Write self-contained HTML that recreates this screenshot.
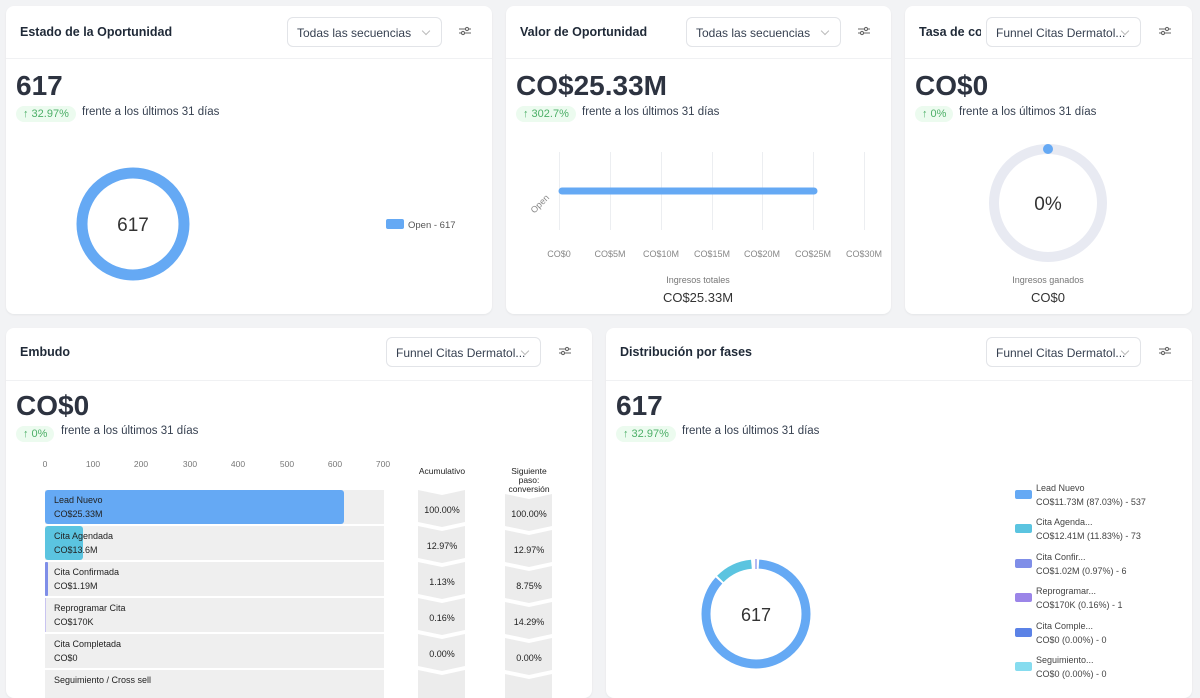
<!DOCTYPE html>
<html><head><meta charset="utf-8"><style>
*{box-sizing:border-box;margin:0;padding:0}
body{width:1200px;height:686px;overflow:hidden;background:#f2f3f5;font-family:"Liberation Sans",sans-serif;color:#1f2937;position:relative}
.card{position:absolute;background:#fff;border-radius:8px;box-shadow:0 1px 2px rgba(0,0,0,.06);overflow:hidden}
.hdr{position:absolute;left:0;right:0;top:0;height:53px;border-bottom:1px solid #f0f1f3}
.title{position:absolute;left:14px;top:19px;font-size:12.5px;font-weight:600;color:#1f2937;white-space:nowrap}
.dd{position:absolute;top:11px;width:155px;height:30px;border:1px solid #e2e4e8;border-radius:6px;background:#fff;font-size:12px;color:#374151;padding:8px 9px;white-space:nowrap}
.dd:after{content:"";position:absolute;right:12px;top:10px;width:5px;height:5px;border-right:1px solid #bbb;border-bottom:1px solid #bbb;transform:rotate(45deg)}
.fi{position:absolute;top:20px;width:12px;height:10px}
.big{position:absolute;left:10px;top:64px;font-size:28px;font-weight:700;color:#2d3340}
.badge{position:absolute;left:10px;top:100px;height:16px;background:#ecfbef;color:#4caf67;border-radius:8px;font-size:11px;padding:2px 7px}
.cmp{position:absolute;top:100px;font-size:11.5px;color:#374151}
.abs{position:absolute;white-space:nowrap}
</style></head><body>

<div class="card" style="left:6px;top:6px;width:486px;height:308px">
 <div class="hdr"><div class="title">Estado de la Oportunidad</div>
 <div class="dd" style="left:281px">Todas las secuencias</div>
 <svg class="fi" style="left:453px" viewBox="0 0 12 10"><g stroke="#666" fill="none" stroke-width="1.1"><line x1="0" y1="3" x2="12" y2="3"/><line x1="0" y1="7" x2="12" y2="7"/><circle cx="8" cy="3" r="1.6" fill="#fff"/><circle cx="4" cy="7" r="1.6" fill="#fff"/></g></svg></div>
 <div class="big">617</div>
 <div class="badge">↑ 32.97%</div><div class="cmp" style="left:76px">frente a los últimos 31 días</div>
 <svg class="abs" style="left:0;top:0" width="486" height="308">
  <circle cx="127" cy="218" r="51" fill="none" stroke="#65a9f4" stroke-width="11"/>
  <text x="127" y="225" font-size="19" text-anchor="middle" fill="#333" font-family="Liberation Sans">617</text>
  <rect x="380" y="213" width="18" height="10" rx="2" fill="#65a9f4"/>
  <text x="402" y="222" font-size="9.5" fill="#555" font-family="Liberation Sans">Open - 617</text>
 </svg>
</div>

<div class="card" style="left:506px;top:6px;width:385px;height:308px">
 <div class="hdr"><div class="title">Valor de Oportunidad</div>
 <div class="dd" style="left:180px">Todas las secuencias</div>
 <svg class="fi" style="left:352px" viewBox="0 0 12 10"><g stroke="#666" fill="none" stroke-width="1.1"><line x1="0" y1="3" x2="12" y2="3"/><line x1="0" y1="7" x2="12" y2="7"/><circle cx="8" cy="3" r="1.6" fill="#fff"/><circle cx="4" cy="7" r="1.6" fill="#fff"/></g></svg></div>
 <div class="big">CO$25.33M</div>
 <div class="badge">↑ 302.7%</div><div class="cmp" style="left:76px">frente a los últimos 31 días</div>
 <svg class="abs" style="left:0;top:0" width="385" height="308" font-family="Liberation Sans">
  <g stroke="#eceef1" stroke-width="1">
   <line x1="53.5" y1="146" x2="53.5" y2="224"/><line x1="104.5" y1="146" x2="104.5" y2="224"/><line x1="155.5" y1="146" x2="155.5" y2="224"/><line x1="206.5" y1="146" x2="206.5" y2="224"/><line x1="256.5" y1="146" x2="256.5" y2="224"/><line x1="307.5" y1="146" x2="307.5" y2="224"/><line x1="358.5" y1="146" x2="358.5" y2="224"/>
  </g>
  <line x1="56" y1="185" x2="308" y2="185" stroke="#65a9f4" stroke-width="7" stroke-linecap="round"/>
  <text x="36" y="200" font-size="9" fill="#888" transform="rotate(-45 36 200)" text-anchor="middle">Open</text>
  <g font-size="9" fill="#888" text-anchor="middle">
   <text x="53" y="251">CO$0</text><text x="104" y="251">CO$5M</text><text x="155" y="251">CO$10M</text><text x="206" y="251">CO$15M</text><text x="256" y="251">CO$20M</text><text x="307" y="251">CO$25M</text><text x="358" y="251">CO$30M</text>
  </g>
  <text x="192" y="277" font-size="9" fill="#777" text-anchor="middle">Ingresos totales</text>
  <text x="192" y="296" font-size="13" fill="#333" text-anchor="middle">CO$25.33M</text>
 </svg>
</div>

<div class="card" style="left:905px;top:6px;width:287px;height:308px">
 <div class="hdr"><div class="title" style="width:62px;overflow:hidden">Tasa de conversión</div>
 <div class="dd" style="left:81px">Funnel Citas Dermatol...</div>
 <svg class="fi" style="left:254px" viewBox="0 0 12 10"><g stroke="#666" fill="none" stroke-width="1.1"><line x1="0" y1="3" x2="12" y2="3"/><line x1="0" y1="7" x2="12" y2="7"/><circle cx="8" cy="3" r="1.6" fill="#fff"/><circle cx="4" cy="7" r="1.6" fill="#fff"/></g></svg></div>
 <div class="big">CO$0</div>
 <div class="badge">↑ 0%</div><div class="cmp" style="left:54px">frente a los últimos 31 días</div>
 <svg class="abs" style="left:0;top:0" width="287" height="308" font-family="Liberation Sans">
  <circle cx="143" cy="197" r="54" fill="none" stroke="#e8eaf2" stroke-width="10"/>
  <circle cx="143" cy="143" r="5" fill="#65a9f4"/>
  <text x="143" y="204" font-size="19" fill="#333" text-anchor="middle">0%</text>
  <text x="143" y="277" font-size="9" fill="#777" text-anchor="middle">Ingresos ganados</text>
  <text x="143" y="296" font-size="13" fill="#333" text-anchor="middle">CO$0</text>
 </svg>
</div>

<div class="card" style="left:6px;top:328px;width:586px;height:370px">
 <div class="hdr"><div class="title" style="top:17px">Embudo</div>
 <div class="dd" style="left:380px;top:9px">Funnel Citas Dermatol...</div>
 <svg class="fi" style="left:553px;top:18px" viewBox="0 0 12 10"><g stroke="#666" fill="none" stroke-width="1.1"><line x1="0" y1="3" x2="12" y2="3"/><line x1="0" y1="7" x2="12" y2="7"/><circle cx="8" cy="3" r="1.6" fill="#fff"/><circle cx="4" cy="7" r="1.6" fill="#fff"/></g></svg></div>
 <div class="big" style="top:62px">CO$0</div>
 <div class="badge" style="top:98px">↑ 0%</div><div class="cmp" style="left:55px;top:97px">frente a los últimos 31 días</div>
 <svg class="abs" style="left:0;top:0" width="586" height="370" font-family="Liberation Sans">
  <g font-size="8.5" fill="#777" text-anchor="middle">
   <text x="39" y="139">0</text><text x="87" y="139">100</text><text x="135" y="139">200</text><text x="184" y="139">300</text><text x="232" y="139">400</text><text x="281" y="139">500</text><text x="329" y="139">600</text><text x="377" y="139">700</text>
  </g>
  <g font-size="8.5" fill="#222" text-anchor="middle">
   <text x="436" y="146">Acumulativo</text>
   <text x="523" y="146">Siguiente</text><text x="523" y="155">paso:</text><text x="523" y="164">conversión</text>
  </g>
  <g fill="#efefef">
   <rect x="39" y="162" width="339" height="34"/><rect x="39" y="198" width="339" height="34"/><rect x="39" y="234" width="339" height="34"/><rect x="39" y="270" width="339" height="34"/><rect x="39" y="306" width="339" height="34"/><rect x="39" y="342" width="339" height="34"/>
  </g>
  <rect x="39" y="162" width="299" height="34" rx="3" fill="#65a9f4"/>
  <rect x="39" y="198" width="38" height="34" rx="3" fill="#5bc4e0"/>
  <rect x="39" y="234" width="3" height="34" rx="1" fill="#7f8ee8"/>
  <rect x="39" y="270" width="1" height="34" fill="#c9c4f0"/>
  <g font-size="9" fill="#222">
   <text x="48" y="175">Lead Nuevo</text><text x="48" y="189">CO$25.33M</text>
   <text x="48" y="211">Cita Agendada</text><text x="48" y="225">CO$13.6M</text>
   <text x="48" y="247">Cita Confirmada</text><text x="48" y="261">CO$1.19M</text>
   <text x="48" y="283">Reprogramar Cita</text><text x="48" y="297">CO$170K</text>
   <text x="48" y="319">Cita Completada</text><text x="48" y="333">CO$0</text>
   <text x="48" y="355">Seguimiento / Cross sell</text>
  </g>
  <g fill="#ececec">
   <path d="M412 162 L436 167 L459 162 L459 194 L436 199 L412 194Z"/>
   <path d="M412 198 L436 203 L459 198 L459 230 L436 235 L412 230Z"/>
   <path d="M412 234 L436 239 L459 234 L459 266 L436 271 L412 266Z"/>
   <path d="M412 270 L436 275 L459 270 L459 302 L436 307 L412 302Z"/>
   <path d="M412 306 L436 311 L459 306 L459 338 L436 343 L412 338Z"/>
   <path d="M412 342 L436 347 L459 342 L459 374 L436 379 L412 374Z"/>
   <path d="M499 166 L523 171 L546 166 L546 198 L523 203 L499 198Z"/>
   <path d="M499 202 L523 207 L546 202 L546 234 L523 239 L499 234Z"/>
   <path d="M499 238 L523 243 L546 238 L546 270 L523 275 L499 270Z"/>
   <path d="M499 274 L523 279 L546 274 L546 306 L523 311 L499 306Z"/>
   <path d="M499 310 L523 315 L546 310 L546 342 L523 347 L499 342Z"/>
   <path d="M499 346 L523 351 L546 346 L546 378 L523 383 L499 378Z"/>
  </g>
  <g font-size="9" fill="#222" text-anchor="middle">
   <text x="436" y="185">100.00%</text><text x="436" y="221">12.97%</text><text x="436" y="257">1.13%</text><text x="436" y="293">0.16%</text><text x="436" y="329">0.00%</text>
   <text x="523" y="189">100.00%</text><text x="523" y="225">12.97%</text><text x="523" y="261">8.75%</text><text x="523" y="297">14.29%</text><text x="523" y="333">0.00%</text>
  </g>
 </svg>
</div>

<div class="card" style="left:606px;top:328px;width:586px;height:370px">
 <div class="hdr"><div class="title" style="top:17px">Distribución por fases</div>
 <div class="dd" style="left:380px;top:9px">Funnel Citas Dermatol...</div>
 <svg class="fi" style="left:553px;top:18px" viewBox="0 0 12 10"><g stroke="#666" fill="none" stroke-width="1.1"><line x1="0" y1="3" x2="12" y2="3"/><line x1="0" y1="7" x2="12" y2="7"/><circle cx="8" cy="3" r="1.6" fill="#fff"/><circle cx="4" cy="7" r="1.6" fill="#fff"/></g></svg></div>
 <div class="big" style="top:62px">617</div>
 <div class="badge" style="top:98px">↑ 32.97%</div><div class="cmp" style="left:76px;top:97px">frente a los últimos 31 días</div>
 <svg class="abs" style="left:0;top:0" width="586" height="370" font-family="Liberation Sans">
  <g transform="translate(150,286) rotate(-90)" fill="none" stroke-width="9">
   <circle r="50" stroke="#65a9f4" stroke-dasharray="269 45" stroke-dashoffset="-3"/>
   <circle r="50" stroke="#5bc4e0" stroke-dasharray="35 280" stroke-dashoffset="-274"/>
  </g>
  <line x1="150" y1="231" x2="150" y2="241" stroke="#9aa2ec" stroke-width="1.5"/>
  <text x="150" y="293" font-size="18" fill="#333" text-anchor="middle">617</text>
  <g font-size="9" fill="#444">
   <rect x="409" y="162" width="17" height="9" rx="2" fill="#65a9f4"/><text x="430" y="163">Lead Nuevo</text><text x="430" y="177">CO$11.73M (87.03%) - 537</text>
   <rect x="409" y="196" width="17" height="9" rx="2" fill="#5bc4e0"/><text x="430" y="197">Cita Agenda...</text><text x="430" y="211">CO$12.41M (11.83%) - 73</text>
   <rect x="409" y="231" width="17" height="9" rx="2" fill="#7f8ee8"/><text x="430" y="232">Cita Confir...</text><text x="430" y="246">CO$1.02M (0.97%) - 6</text>
   <rect x="409" y="265" width="17" height="9" rx="2" fill="#9b85e8"/><text x="430" y="266">Reprogramar...</text><text x="430" y="280">CO$170K (0.16%) - 1</text>
   <rect x="409" y="300" width="17" height="9" rx="2" fill="#5b82e6"/><text x="430" y="301">Cita Comple...</text><text x="430" y="315">CO$0 (0.00%) - 0</text>
   <rect x="409" y="334" width="17" height="9" rx="2" fill="#86dcef"/><text x="430" y="335">Seguimiento...</text><text x="430" y="349">CO$0 (0.00%) - 0</text>
  </g>
 </svg>
</div>
</body></html>
